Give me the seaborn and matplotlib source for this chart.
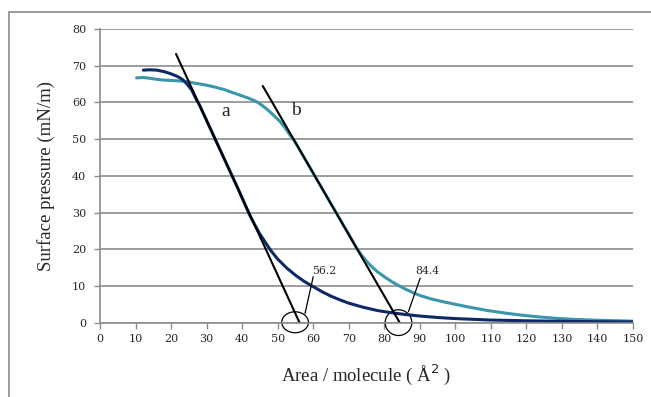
import numpy as np
import pandas as pd
import matplotlib.pyplot as plt
import seaborn as sns
from matplotlib.patches import Ellipse, Rectangle

# isotherm a (dark navy)
area_a = [12.2, 14, 16, 18, 19.7, 21.5, 22.5, 23.4, 24.5, 25.8, 27, 28, 30, 32, 34, 36, 38, 39, 40.5, 42, 43.5,
          45, 46.5, 48, 50, 52.5, 55, 57.5, 60, 62.5, 65, 67.5, 70, 74, 78, 82, 86, 90, 95, 100, 110, 120, 130, 140, 150]
press_a = [68.8, 68.9, 68.8, 68.4, 67.9, 67.2, 66.7, 66.1, 65.0, 63.4, 61.0, 59.3, 55.1, 50.9, 46.7, 42.5, 38.3, 36.2, 32.9, 29.6, 26.8,
           24.2, 22.0, 19.8, 17.4, 15.0, 13.0, 11.3, 9.9, 8.5, 7.3, 6.3, 5.4, 4.3, 3.4, 2.8, 2.3, 1.9, 1.5, 1.2, 0.8, 0.6, 0.45, 0.35, 0.3]

# isotherm b (teal)
area_b = [10.3, 12, 14, 16, 17.8, 20, 23.4, 25, 27, 29.5, 31.9, 35, 37, 39.4, 42, 44.1, 45.5, 46.8, 48, 49.3, 50.6, 52, 53.5,
          55, 58, 61, 64, 67, 69, 70.5, 72.2, 73.5, 75, 76.5, 78, 80, 82, 84, 86, 88, 90, 93, 96, 99.4, 104, 109, 114, 118,
          123, 128, 133, 140, 150]
press_b = [66.7, 66.8, 66.6, 66.3, 66.1, 66.0, 65.8, 65.6, 65.2, 64.8, 64.3, 63.5, 62.8, 62.0, 61.1, 60.2, 59.3, 58.3, 57.3, 56.1, 54.9, 53.2, 51.1,
           49.1, 44.1, 39.1, 34.1, 29.1, 25.8, 23.3, 20.4, 18.6, 16.8, 15.3, 14.0, 12.6, 11.3, 10.2, 9.2, 8.3, 7.5, 6.6, 5.9, 5.2, 4.3, 3.4, 2.7, 2.2,
           1.7, 1.3, 1.0, 0.75, 0.5]

# tangent lines
tan_a_x = [21.4, 56.2]
tan_a_y = [73.2, 0.0]
tan_b_x = [45.8, 84.4]
tan_b_y = [64.5, 0.0]

sns.set_theme(style="white")
plt.rcParams['font.family'] = ['DejaVu Serif']
serif = ['Liberation Serif', 'DejaVu Serif']

fig = plt.figure(figsize=(6.51, 3.97), dpi=100)
ax = fig.add_axes([0.1536, 0.1864, 0.8188, 0.7406])

df_a = pd.DataFrame({'area': area_a, 'pressure': press_a})
df_b = pd.DataFrame({'area': area_b, 'pressure': press_b})
sns.lineplot(data=df_b, x='area', y='pressure', ax=ax, color='#3a97ab', lw=2.2)
sns.lineplot(data=df_a, x='area', y='pressure', ax=ax, color='#0d2a66', lw=2.2)
ax.plot(tan_a_x, tan_a_y, color='black', lw=1.5)
ax.plot(tan_b_x, tan_b_y, color='black', lw=1.5)

ax.set_xlim(0, 150)
ax.set_ylim(0, 80)
ax.set_xticks(np.arange(0, 151, 10))
ax.set_yticks(np.arange(0, 81, 10))
ax.yaxis.grid(True, color='#8c8c8c', lw=1.2)
ax.xaxis.grid(False)
for s in ['top', 'right']:
    ax.spines[s].set_visible(False)
for s in ['left', 'bottom']:
    ax.spines[s].set_color('#8c8c8c')
    ax.spines[s].set_linewidth(1.2)
ax.tick_params(axis='both', which='both', direction='out', length=4, width=1,
               color='#8c8c8c', labelsize=8, bottom=True, left=True)
ax.tick_params(axis='y', pad=6)
ax.tick_params(axis='x', pad=4)
ax.set_axisbelow(True)

ax.set_xlabel('Area / molecule ( Å$^2$ )', fontsize=13.5, labelpad=13, family=serif)
ax.set_ylabel('Surface pressure (mN/m)', fontsize=13.5, labelpad=12, family=serif)

ax.text(35.5, 57.5, 'a', fontsize=14, ha='center', va='center', family=serif)
ax.text(55.2, 57.8, 'b', fontsize=14, ha='center', va='center', family=serif)

# circles at intercepts + labels
ax.add_patch(Ellipse((54.9, 0.2), 7.5, 5.7, fill=False, color='black', lw=0.9, clip_on=False))
ax.add_patch(Ellipse((84.0, 0.1), 7.5, 7.0, fill=False, color='black', lw=0.9, clip_on=False))
ax.plot([57.7, 60.0], [2.6, 12.6], color='black', lw=0.9)
ax.plot([86.8, 90.1], [3.1, 12.2], color='black', lw=0.9)
ax.text(59.6, 14.2, '56.2', fontsize=7.8, ha='left', va='center')
ax.text(88.7, 14.2, '84.4', fontsize=7.8, ha='left', va='center')

# outer frame
fig.patches.append(Rectangle((9 / 651, -0.01), 1.0, 1 - 12 / 397 + 0.01, transform=fig.transFigure,
                             fill=False, edgecolor='#8c8c8c', lw=1.2))

fig.savefig('out.png', dpi=100)
